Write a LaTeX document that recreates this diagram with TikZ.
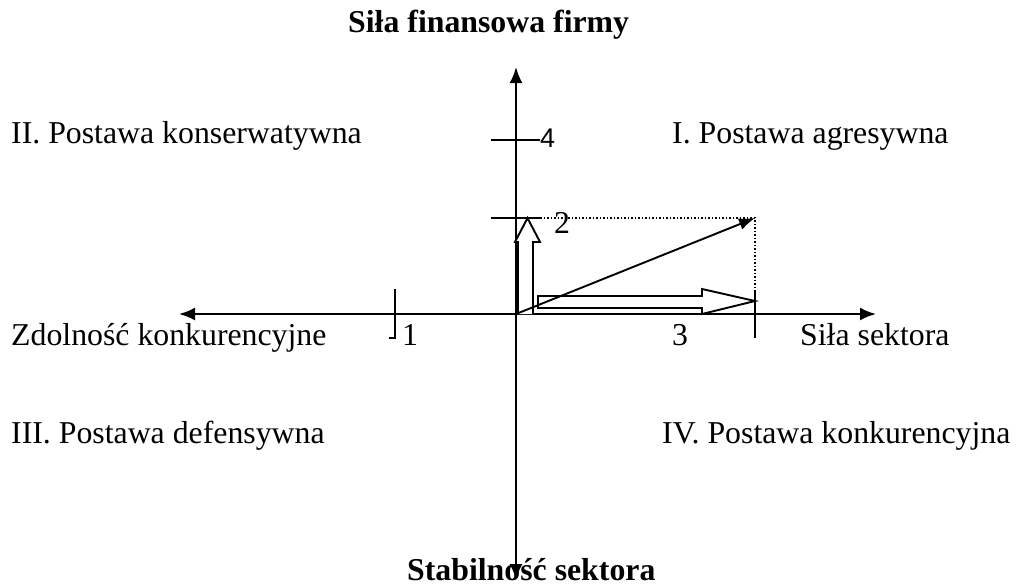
\documentclass[tikz,border=0pt]{standalone}
\usepackage{fontspec}
\setmainfont{Liberation Serif}
\newfontfamily\arialfont{Liberation Sans}
\usetikzlibrary{arrows.meta}
\tikzset{
  axis/.style={line width=2.2pt, -{Latex[length=16pt,width=13pt]}},
  tick/.style={line width=2.2pt},
  hollow/.style={line width=1.9pt, fill=white, line join=miter},
  guide/.style={line width=1.5pt, dotted},
  lbl/.style={inner sep=0pt, anchor=base west, font=\fontsize{31.8}{36}\selectfont},
  blbl/.style={lbl, font=\fontsize{31.8}{36}\selectfont\bfseries},
}
\begin{document}
\begin{tikzpicture}[x=1pt,y=-1pt]
\useasboundingbox (0,0) rectangle (1017,587);
% key points
\coordinate (O) at (516,314);
\coordinate (top) at (516,67);
\coordinate (bot) at (516,580);
\coordinate (left) at (179,314);
\coordinate (right) at (876,314);
\coordinate (t4a) at (491,140);
\coordinate (t4b) at (540,140);
\coordinate (t2a) at (491,218);
\coordinate (t2b) at (540,218);
\coordinate (P) at (755,218);
\coordinate (t3a) at (755,290);
\coordinate (t3b) at (755,338);
\coordinate (t1a) at (395,289);
\coordinate (t1b) at (395,338);
\coordinate (t1c) at (389,338);
% axes
\draw[axis] (O) -- (top);
\draw[axis] (O) -- (bot);
\draw[axis] (O) -- (left);
\draw[axis] (O) -- (right);
% ticks
\draw[tick] (t4a) -- (t4b);
\draw[tick] (t2a) -- (t2b);
\draw[tick] (t3a) -- (t3b);
\draw[tick] (t1a) -- (t1b) -- (t1c);
% dotted guides
\draw[guide] (t2b) -- (P) -- (t3a);
% hollow arrows
\draw[hollow] (518,314) -- (518,242) -- (515,242) -- (527.5,218) -- (540,242) -- (533,242) -- (533,314);
\draw[hollow] (538,296) -- (702,296) -- (702,289) -- (755,301) -- (702,314) -- (702,308) -- (538,308) -- cycle;
% resultant vector
\draw[line width=1.9pt, -{Latex[length=16pt,width=12pt]}] (O) -- (P);
% labels
\node[blbl] (title) at (348,32) {Siła finansowa firmy};
\node[blbl] (bottitle) at (407,580) {Stabilność sektora};
\node[lbl] (q2) at (11,143) {II. Postawa konserwatywna};
\node[lbl] (q1) at (672,143) {I. Postawa agresywna};
\node[lbl] (q3) at (11,443) {III. Postawa defensywna};
\node[lbl] (q4) at (662,443) {IV. Postawa konkurencyjna};
\node[lbl] (xl) at (11,345) {Zdolność konkurencyjne};
\node[lbl] (xr) at (800,345) {Siła sektora};
\node[lbl] (n1) at (402,345) {1};
\node[lbl] (n2) at (554,233) {2};
\node[lbl] (n3) at (672,345) {3};
\node[lbl, font=\arialfont\fontsize{27}{30}\selectfont] (n4) at (540,147) {4};
\end{tikzpicture}
\end{document}
